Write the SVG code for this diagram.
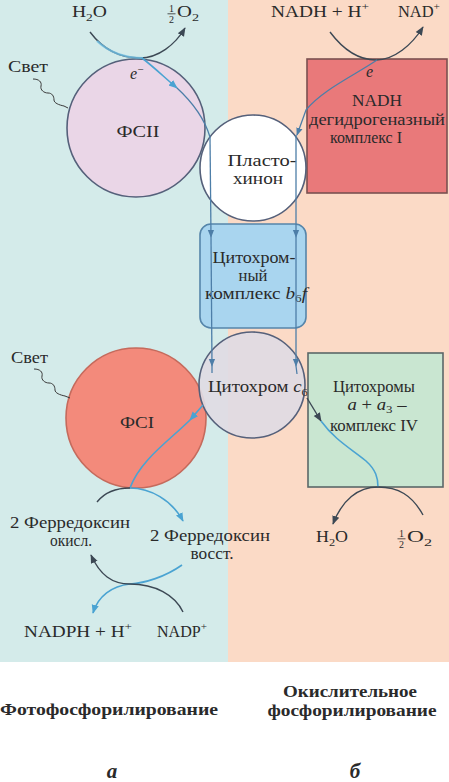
<svg xmlns="http://www.w3.org/2000/svg" width="449" height="782" viewBox="0 0 449 782" font-family="'Liberation Serif', 'DejaVu Serif', serif">
<defs>
<style>
text{font-family:"Liberation Serif","DejaVu Serif",serif;font-size:16px;fill:#2a2a2a}
.c{text-anchor:middle}
.b{font-weight:bold}
.bb{font-size:17px}
.i{font-style:italic}
.sm{font-size:11px}
.fr{font-size:10px;text-anchor:middle}
.node{stroke-width:1.6}
.dk{fill:none;stroke:#3c4854;stroke-width:1.4}
.bl{fill:none;stroke:#4aa3d2;stroke-width:1.6}
.vl{fill:none;stroke:#4d7ea8;stroke-width:1.3}
.sq{fill:none;stroke:#3a3a3a;stroke-width:1}
</style>
<marker id="ad" viewBox="0 0 10 10" refX="9" refY="5" markerWidth="9" markerHeight="9" markerUnits="userSpaceOnUse" orient="auto"><path d="M0,1 L10,5 L0,9 z" fill="#3c4854"/></marker>
<marker id="ab" viewBox="0 0 10 10" refX="9" refY="5" markerWidth="9" markerHeight="9" markerUnits="userSpaceOnUse" orient="auto"><path d="M0,1 L10,5 L0,9 z" fill="#4aa3d2"/></marker>
<marker id="av" viewBox="0 0 10 10" refX="9" refY="5" markerWidth="8" markerHeight="8" markerUnits="userSpaceOnUse" orient="auto"><path d="M0,1 L10,5 L0,9 z" fill="#4d7ea8"/></marker>
</defs>

<g id="background">
<rect x="0" y="0" width="228" height="662" fill="#d4ebea"/>
<rect x="228" y="0" width="221" height="662" fill="#fbdac6"/>
<rect x="0" y="662" width="449" height="120" fill="#ffffff"/>
</g>

<g id="fsii">
<circle class="node" cx="136" cy="128" r="69" fill="#ead6e7" stroke="#55607a"/>
<text class="c" x="138" y="137" textLength="43" lengthAdjust="spacingAndGlyphs">ФСII</text>
<text class="i" x="130" y="79">e<tspan class="sm" dy="-6">−</tspan></text>
</g>

<g id="nadh-complex">
<rect class="node" x="307" y="59" width="140" height="134" fill="#e9797a" stroke="#7a5050"/>
<text class="i" x="366" y="77">e</text>
<text class="c" x="377" y="106" textLength="50" lengthAdjust="spacingAndGlyphs">NADH</text>
<text class="c" x="377" y="125" textLength="136" lengthAdjust="spacingAndGlyphs">дегидрогеназный</text>
<text class="c" x="366" y="143" textLength="72" lengthAdjust="spacingAndGlyphs">комплекс I</text>
</g>

<g id="plastoquinone">
<circle class="node" cx="253" cy="168" r="53" fill="#ffffff" stroke="#55607a"/>
<text class="c" x="262" y="166" textLength="69" lengthAdjust="spacingAndGlyphs">Пласто-</text>
<text class="c" x="258" y="184" textLength="50" lengthAdjust="spacingAndGlyphs">хинон</text>
</g>

<g id="cyt-b6f">
<rect class="node" x="200" y="224" width="106" height="104" rx="11" fill="#a9d5ef" stroke="#5585aa"/>
<text class="c" x="254" y="263" textLength="83" lengthAdjust="spacingAndGlyphs">Цитохром-</text>
<text class="c" x="253" y="281" textLength="29" lengthAdjust="spacingAndGlyphs">ный</text>
<text class="c" x="256" y="299" textLength="102" lengthAdjust="spacingAndGlyphs">комплекс <tspan class="i">b</tspan><tspan class="sm" dy="3">6</tspan><tspan class="i" dy="-3">f</tspan></text>
</g>

<g id="fsi">
<circle class="node" cx="136" cy="418" r="70" fill="#f38a7b" stroke="#c56a5c"/>
<text class="c" x="137" y="428" textLength="34" lengthAdjust="spacingAndGlyphs">ФСI</text>
</g>

<g id="cyt-c6">
<circle class="node" cx="252" cy="385" r="53" fill="#e0dbe3" fill-opacity="0.92" stroke="#55607a"/>
<text x="208" y="392" textLength="100" lengthAdjust="spacingAndGlyphs">Цитохром <tspan class="i">c</tspan><tspan class="sm" dy="4">6</tspan></text>
</g>

<g id="cyt-aa3">
<rect class="node" x="308" y="353" width="135" height="134" fill="#c9e6d1" stroke="#5a6868"/>
<text class="c" x="374" y="392" textLength="82" lengthAdjust="spacingAndGlyphs">Цитохромы</text>
<text class="c" x="377" y="410" textLength="59" lengthAdjust="spacingAndGlyphs"><tspan class="i">a</tspan> + <tspan class="i">a</tspan><tspan class="sm" dy="3">3</tspan><tspan dy="-3"> –</tspan></text>
<text class="c" x="374" y="431" textLength="88" lengthAdjust="spacingAndGlyphs">комплекс IV</text>
</g>

<g id="labels">
<text x="72" y="17" textLength="35" lengthAdjust="spacingAndGlyphs">H<tspan class="sm" dy="4">2</tspan><tspan dy="-4">O</tspan></text>
<text class="fr" x="171.5" y="12">1</text>
<line x1="167.5" y1="13.8" x2="175.5" y2="13.8" stroke="#2a2a2a" stroke-width="0.8"/>
<text class="fr" x="171.5" y="23">2</text>
<text x="177" y="17" textLength="22" lengthAdjust="spacingAndGlyphs">O<tspan class="sm" dy="4">2</tspan></text>

<text x="271" y="17" textLength="98" lengthAdjust="spacingAndGlyphs">NADH + H<tspan class="sm" dy="-7">+</tspan></text>
<text x="398" y="17" textLength="42" lengthAdjust="spacingAndGlyphs">NAD<tspan class="sm" dy="-7">+</tspan></text>

<text x="8" y="72" textLength="40" lengthAdjust="spacingAndGlyphs">Свет</text>
<text x="11" y="363" textLength="37" lengthAdjust="spacingAndGlyphs">Свет</text>

<text class="c" x="70" y="528" textLength="120" lengthAdjust="spacingAndGlyphs">2 Ферредоксин</text>
<text class="c" x="71" y="546" textLength="42" lengthAdjust="spacingAndGlyphs">окисл.</text>
<text class="c" x="210" y="541" textLength="120" lengthAdjust="spacingAndGlyphs">2 Ферредоксин</text>
<text class="c" x="212" y="559" textLength="43" lengthAdjust="spacingAndGlyphs">восст.</text>

<text x="316" y="542" textLength="32" lengthAdjust="spacingAndGlyphs">H<tspan class="sm" dy="4">2</tspan><tspan dy="-4">O</tspan></text>
<text class="fr" x="401.5" y="537">1</text>
<line x1="397.5" y1="538.8" x2="405.5" y2="538.8" stroke="#2a2a2a" stroke-width="0.8"/>
<text class="fr" x="401.5" y="548">2</text>
<text x="407" y="542" textLength="25" lengthAdjust="spacingAndGlyphs">O<tspan class="sm" dy="4">2</tspan></text>

<text x="24" y="637" textLength="108" lengthAdjust="spacingAndGlyphs">NADPH + H<tspan class="sm" dy="-7">+</tspan></text>
<text x="157" y="637" textLength="50" lengthAdjust="spacingAndGlyphs">NADP<tspan class="sm" dy="-7">+</tspan></text>

<text class="b bb" x="0" y="715" textLength="218" lengthAdjust="spacingAndGlyphs">Фотофосфорилирование</text>
<text class="b bb c" x="350" y="697" textLength="134" lengthAdjust="spacingAndGlyphs">Окислительное</text>
<text class="b bb c" x="352" y="716" textLength="169" lengthAdjust="spacingAndGlyphs">фосфорилирование</text>

<text class="b i c" x="112" y="778" style="font-size:21px">а</text>
<text class="b i c" x="355" y="778" style="font-size:21px">б</text>
</g>

<g id="connectors">
<path class="sq" d="M33 79 c6 0 9 3 8 7 c-1 4 3 7 7 7 c4 0 6 3 6 7 c0 3 5 5 10 6 l4 2"/>
<path class="sq" d="M34 369 c6 0 9 3 8 7 c-1 4 3 7 7 7 c4 0 6 3 6 7 c0 3 5 5 10 6 l5 2"/>
<path class="dk" d="M90 32 C105 52 122 58 140 58 C158 58 175 45 185 28" marker-end="url(#ad)"/>
<path d="M97 41 C110 53 124 58 143 58" fill="none" stroke="#6fc0e6" stroke-width="2.2" opacity="0.8"/>
<path class="bl" d="M142 58 C155 68 165 78 177 88" marker-end="url(#ab)"/>
<path class="vl" d="M177 88 C190 100 204 117 210 137"/>
<path class="dk" d="M330 32 C345 52 360 60 376 60 C394 60 412 45 423 27" marker-end="url(#ad)"/>
<path class="vl" d="M377 60 C355 75 322 90 306 110 L297 135" marker-end="url(#av)"/>
<path class="vl" d="M210 137 L211 237" marker-end="url(#av)"/>
<path class="vl" d="M211 237 L212 366" marker-end="url(#av)"/>
<path class="vl" d="M212 366 L212 373"/>
<path class="vl" d="M296 135 L296 237" marker-end="url(#av)"/>
<path class="vl" d="M296 237 L296 366" marker-end="url(#av)"/>
<path class="vl" d="M296 366 L297 374"/>
<path class="bl" d="M203 405 L190 420" marker-end="url(#ab)"/>
<path class="bl" d="M190 420 C170 440 140 460 130 488"/>
<path class="dk" d="M97 502 C105 492 118 488 130 488"/>
<path class="bl" d="M130 488 C150 488 172 500 183 521" marker-end="url(#ab)"/>
<path class="dk" d="M307 398 L321 421" marker-end="url(#ad)"/>
<path class="bl" d="M321 421 C335 440 350 448 366 461 C376 470 378 478 378 487"/>
<path class="dk" d="M423 515 C412 495 398 487 378 487 C358 487 342 500 333 524" marker-end="url(#ad)"/>
<path class="bl" d="M182 565 C165 577 145 583 130 584 C112 586 98 596 93 613" marker-end="url(#ab)"/>
<path class="dk" d="M183 612 C175 595 155 584 130 584 C112 584 100 575 91 555" marker-end="url(#ad)"/>
</g>
</svg>
